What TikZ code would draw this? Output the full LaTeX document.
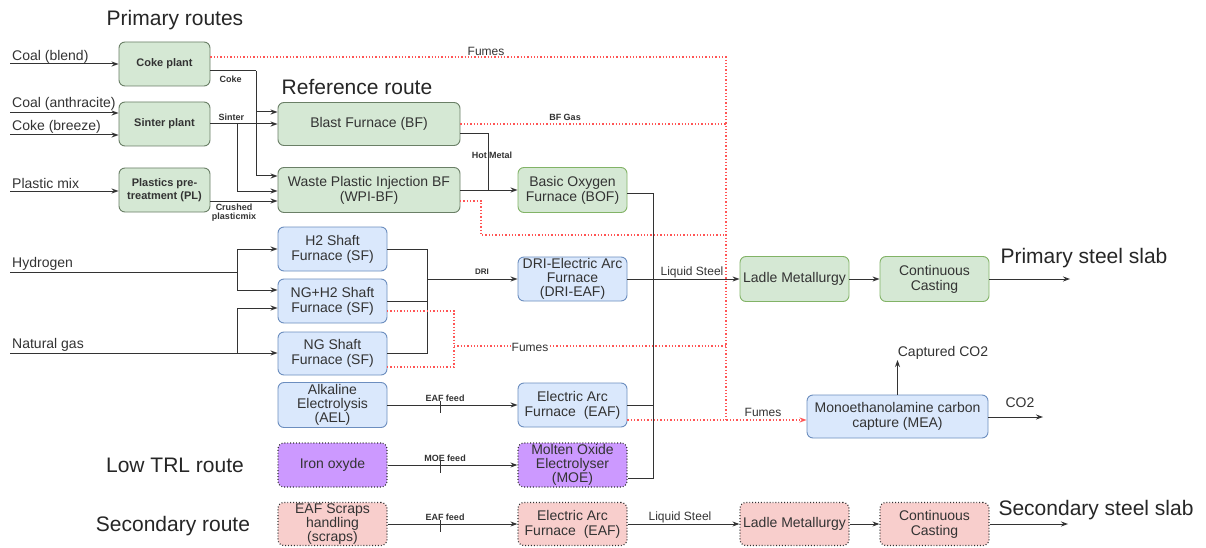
\documentclass[tikz,border=0pt]{standalone}
\usepackage{fontspec}
\setmainfont{Liberation Sans}
\usetikzlibrary{arrows.meta}
\definecolor{gfill}{HTML}{D5E8D4}
\definecolor{gline}{HTML}{82B366}
\definecolor{gdark}{HTML}{6A7F66}
\definecolor{bfill}{HTML}{DAE8FC}
\definecolor{bline}{HTML}{6C8EBF}
\definecolor{pfill}{HTML}{CC99FF}
\definecolor{rfill}{HTML}{F8CECC}
\definecolor{fume}{HTML}{FF5555}
\definecolor{ln}{HTML}{333333}
\tikzset{
  box/.style={rounded corners=6pt, align=center, inner sep=0pt, text=ln, line width=0.9pt},
  wh/.style 2 args={minimum width=#1, minimum height=#2},
  gbox/.style={box, fill=gfill, draw=gline},
  gdbox/.style={box, fill=gfill, draw=gdark},
  bbox/.style={box, fill=bfill, draw=bline},
  pbox/.style={box, fill=pfill, draw=ln, dotted, line width=1.2pt},
  rbox/.style={box, fill=rfill, draw=ln, dotted, line width=1.2pt},
  conn/.style={draw=ln, line width=1pt},
  arr/.style={conn, -{Stealth[length=7pt,width=5pt]}},
  fumes/.style={draw=fume, dotted, line width=1.3pt},
  farr/.style={fumes, -{Stealth[length=7pt,width=5pt]}},
  big/.style={font=\fontsize{21}{24}\selectfont, text=black!85},
  mid/.style={font=\fontsize{14}{15}\selectfont},
  midt/.style={font=\fontsize{14}{14}\selectfont},
  sm/.style={font=\fontsize{11}{13}\selectfont\bfseries},
  tiny/.style={font=\fontsize{9}{10}\selectfont\bfseries, text=ln},
  lbl/.style={font=\fontsize{12}{13}\selectfont, text=ln},
  inlbl/.style={font=\fontsize{14}{15}\selectfont, text=ln, anchor=west, inner sep=0pt},
}
\begin{document}
\begin{tikzpicture}[x=1pt,y=-1pt]
\useasboundingbox[fill=white] (0,0) rectangle (1206,548);

% headings
\node[big] (hPrim) at (175,20) {Primary routes};
\node[big] (hRef) at (357,87) {Reference route};
\node[big] (hPss) at (1084,258) {Primary steel slab};
\node[big] (hLow) at (175,465) {Low TRL route};
\node[big] (hSec) at (173,526) {Secondary route};
\node[big] (hSss) at (1096,510) {Secondary steel slab};

% primary route boxes
\node[gdbox, sm, wh={91pt}{44pt}] (coke) at (164.5,64) {Coke plant};
\node[gdbox, sm, wh={91pt}{44pt}] (sinter) at (164.5,124) {Sinter plant};
\node[gdbox, sm, wh={91pt}{44pt}] (plastic) at (164.5,190) {Plastics pre-\\treatment (PL)};
\node[gdbox, mid, wh={182pt}{43pt}] (bf) at (369,124) {Blast Furnace (BF)};
\node[gdbox, mid, wh={182pt}{45pt}] (wpi) at (369,190) {Waste Plastic Injection BF\\(WPI-BF)};
\node[gbox, mid, wh={109pt}{45pt}] (bof) at (572.5,190) {Basic Oxygen\\Furnace (BOF)};
\node[gbox, mid, wh={109pt}{45pt}] (ladle) at (794.5,279) {Ladle Metallurgy};
\node[gbox, mid, wh={109pt}{45pt}] (cc) at (934.5,279) {Continuous\\Casting};

% blue boxes
\node[bbox, mid, wh={109pt}{44pt}] (h2) at (332.5,249) {H2 Shaft\\Furnace (SF)};
\node[bbox, mid, wh={109pt}{44pt}] (ngh2) at (332.5,301) {NG+H2 Shaft\\Furnace (SF)};
\node[bbox, mid, wh={109pt}{43pt}] (ng) at (332.5,353.5) {NG Shaft\\Furnace (SF)};
\node[bbox, midt, wh={109pt}{44pt}] (drieaf) at (572.5,279) {DRI-Electric Arc\\Furnace\\(DRI-EAF)};
\node[bbox, midt, wh={109pt}{45pt}] (ael) at (332.5,405) {Alkaline\\Electrolysis\\(AEL)};
\node[bbox, mid, wh={109pt}{44pt}] (eaf) at (572.5,405) {Electric Arc\\Furnace~~(EAF)};
\node[bbox, mid, wh={181pt}{43pt}] (mea) at (897.5,416.5) {Monoethanolamine carbon\\capture (MEA)};

% low TRL
\node[pbox, mid, wh={109pt}{44pt}] (iron) at (332.5,465) {Iron oxyde};
\node[pbox, midt, wh={109pt}{44pt}] (moe) at (572.5,465) {Molten Oxide\\Electrolyser\\(MOE)};

% secondary
\node[rbox, midt, wh={109pt}{43pt}] (scraps) at (332.5,524) {EAF Scraps\\handling\\(scraps)};
\node[rbox, mid, wh={109pt}{43pt}] (eaf2) at (572.5,524) {Electric Arc\\Furnace~~(EAF)};
\node[rbox, mid, wh={109pt}{43pt}] (ladle2) at (794.5,524) {Ladle Metallurgy};
\node[rbox, mid, wh={109pt}{43pt}] (cc2) at (934.5,524) {Continuous\\Casting};

% input labels
\node[inlbl] (lCoal) at (12,57) {Coal (blend)};
\node[inlbl] (lAnth) at (12,104) {Coal (anthracite)};
\node[inlbl] (lBreeze) at (12,127) {Coke (breeze)};
\node[inlbl] (lPlast) at (12,183) {Plastic mix};
\node[inlbl] (lHyd) at (12,264) {Hydrogen};
\node[inlbl] (lNat) at (12,345) {Natural gas};

% coordinates
\coordinate (i1) at (10,64);
\coordinate (i2) at (10,113);
\coordinate (i3) at (10,135);
\coordinate (i4) at (10,191);
\coordinate (i5) at (10,272);
\coordinate (i6) at (10,353);
\coordinate (cj) at (256,71);
\coordinate (cb) at (256,112);
\coordinate (cw) at (256,176);
\coordinate (sj) at (237,124);
\coordinate (sw) at (237,191);
\coordinate (pw) at (210,201);
\coordinate (hm) at (488,134);
\coordinate (bj) at (653,193);
\coordinate (bm) at (653,478);
\coordinate (hj) at (237,272);
\coordinate (hn) at (237,290);
\coordinate (nj) at (237,353);
\coordinate (nn) at (237,308);
\coordinate (dj) at (427,279);
\coordinate (fx) at (726,57);
\coordinate (fe) at (726,420);
\coordinate (wf) at (481,235);
\coordinate (wo) at (460,201);
\coordinate (sf) at (454,346);
\coordinate (so1) at (387,311);
\coordinate (so2) at (387,367);
\coordinate (outP) at (1070,279);
\coordinate (outS) at (1068,524);
\coordinate (capt) at (897.5,360);
\coordinate (co2) at (1043,417);

% inputs
\draw[arr] (i1) -- (i1 -| coke.west);
\draw[arr] (i2) -- (i2 -| sinter.west);
\draw[arr] (i3) -- (i3 -| sinter.west);
\draw[arr] (i4) -- (i4 -| plastic.west);
\draw[conn] (i5) -- (hj);
\draw[arr] (hj) |- (h2.west);
\draw[arr] (hj) |- (hn -| ngh2.west);
\draw[arr] (i6) -- (i6 -| ng.west);
\draw[arr] (nj) |- (nn -| ngh2.west);

% coke / sinter / plastic
\draw[conn] (cj -| coke.east) -- (cj);
\draw[arr] (cj) |- (cw -| wpi.west);
\draw[arr] (cb) -- (cb -| bf.west);
\draw[arr] (sinter.east) -- (sinter.east -| bf.west);
\draw[arr] (sj) |- (sw -| wpi.west);
\draw[arr] (pw -| plastic.east) -- (pw -| wpi.west);
\node[tiny, anchor=west] (tCoke) at (216,79) {Coke};
\node[tiny, anchor=west] (tSinter) at (215,117) {Sinter};
\node[tiny, align=center, font=\fontsize{9}{9}\selectfont\bfseries] (tCrush) at (234,213) {Crushed\\plasticmix};

% hot metal
\draw[conn] (hm -| bf.east) -- (hm) -- (hm |- wpi.east);
\draw[arr] (wpi.east) -- (wpi.east -| bof.west);
\node[tiny] (tHot) at (492,155) {Hot Metal};

% to liquid steel
\draw[conn] (bj -| bof.east) -- (bj) -- (bm) -- (bm -| moe.east);
\draw[conn] (eaf.east) -- (eaf.east -| bj);
\draw[arr] (drieaf.east) -- (drieaf.east -| ladle.west);
\node[lbl] (tLiq) at (692,272) {Liquid Steel};
\draw[arr] (ladle.east) -- (cc.west);
\draw[arr] (cc.east) -- (outP);

% shaft furnaces to DRI-EAF
\draw[conn] (h2.east) -| (dj);
\draw[conn] (ng.east) -| (dj);
\draw[conn] (ngh2.east) -- (ngh2.east -| dj);
\draw[arr] (dj) -- (dj -| drieaf.west);
\node[font=\fontsize{8}{9}\selectfont\bfseries, text=ln] (tDri) at (482,272) {DRI};

% feeds
\draw[arr] (ael.east) -- (ael.east -| eaf.west);
\draw[arr] (iron.east) -- (iron.east -| moe.west);
\draw[arr] (scraps.east) -- (scraps.east -| eaf2.west);
\coordinate (k1) at (440,405);
\coordinate (k2) at (440,465);
\coordinate (k3) at (440,524);
\foreach \k in {k1,k2,k3}{\draw[conn] (\k) ++(0,-4) -- ++(0,12);}
\node[tiny] (tF1) at (445,398) {EAF feed};
\node[tiny] (tF2) at (445,458) {MOE feed};
\node[tiny] (tF3) at (445,517) {EAF feed};

% secondary chain
\draw[arr] (eaf2.east) -- (eaf2.east -| ladle2.west);
\node[lbl] (tLiq2) at (680,517) {Liquid Steel};
\draw[arr] (ladle2.east) -- (cc2.west);
\draw[arr] (cc2.east) -- (outS);

% MEA
\draw[arr] (mea.north) -- (capt);
\node[font=\fontsize{14}{15}\selectfont, text=ln] (tCapt) at (943,353) {Captured CO2};
\draw[arr] (co2 -| mea.east) -- (co2);
\node[font=\fontsize{14}{15}\selectfont, text=ln] (tCO2) at (1020,403) {CO2};

% fumes
\draw[fumes] (fx -| coke.east) -- (fx) -- (fe);
\draw[fumes] (bf.east) -- (bf.east -| fx);
\draw[fumes] (wo) -| (wf) -- (wf -| fx);
\draw[fumes] (so1) -| (sf);
\draw[fumes] (so2) -| (sf);
\draw[fumes] (sf) -- (sf -| fx);
\draw[farr] (fe -| eaf.east) -- (fe -| mea.west);
\node[lbl] (tFum1) at (486,51) {Fumes};
\node[tiny] (tBFg) at (565,117) {BF Gas};
\node[lbl, fill=white, inner sep=1pt] (tFum2) at (530,347) {Fumes};
\node[lbl] (tFum3) at (763,412) {Fumes};
\end{tikzpicture}
\end{document}
